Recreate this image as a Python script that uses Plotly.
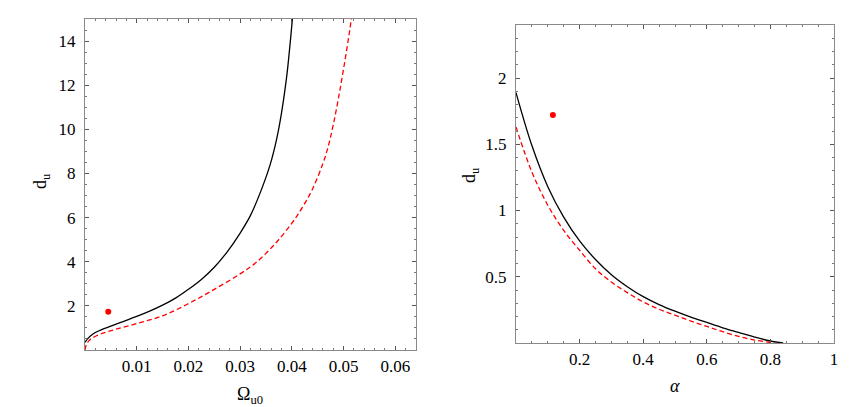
import plotly.graph_objects as go

# left panel: d_u vs Omega_u0
omega_solid = [0, 0.0007, 0.0016, 0.003, 0.005, 0.0075, 0.01, 0.0125, 0.015, 0.0175, 0.02, 0.0225,
               0.025, 0.0275, 0.03, 0.032, 0.034, 0.0358, 0.037, 0.038, 0.039, 0.0395, 0.0401, 0.0403]
du_solid = [0.35, 0.56, 0.74, 0.9, 1.08, 1.3, 1.52, 1.76, 2.03, 2.35, 2.75, 3.2,
            3.75, 4.45, 5.3, 6.1, 7.2, 8.4, 9.5, 10.75, 12.4, 13.5, 15, 15.6]
omega_dash = [0, 0.0003, 0.001, 0.003, 0.006, 0.01, 0.015, 0.02, 0.025, 0.03, 0.033, 0.0367,
              0.04, 0.042, 0.044, 0.046, 0.047, 0.048, 0.049, 0.05, 0.051, 0.0515, 0.0518]
du_dash = [0, 0.26, 0.48, 0.72, 0.94, 1.2, 1.55, 2.1, 2.75, 3.45, 3.95, 4.8,
           5.75, 6.45, 7.3, 8.45, 9.2, 10.2, 11.4, 12.75, 14.2, 15, 15.5]
omega_pt = [0.0045]
du_pt_left = [1.73]

# right panel: d_u vs alpha
alpha_solid = [0, 0.05, 0.1, 0.15, 0.2, 0.25, 0.3, 0.35, 0.4, 0.45, 0.5, 0.55,
               0.6, 0.65, 0.7, 0.75, 0.8, 0.84]
du_alpha_solid = [1.89, 1.49, 1.18, 0.95, 0.77, 0.63, 0.515, 0.425, 0.35, 0.29, 0.24, 0.195,
                  0.155, 0.115, 0.08, 0.045, 0.015, 0]
alpha_dash = [0, 0.05, 0.1, 0.15, 0.2, 0.25, 0.3, 0.35, 0.4, 0.45, 0.5, 0.55,
              0.6, 0.65, 0.7, 0.75, 0.8, 0.813]
du_alpha_dash = [1.63, 1.29, 1.04, 0.85, 0.7, 0.56, 0.46, 0.38, 0.31, 0.255, 0.21, 0.165,
                 0.125, 0.085, 0.05, 0.022, 0.004, 0]
alpha_pt = [0.116]
du_pt_right = [1.72]

left_xticks = [0.01, 0.02, 0.03, 0.04, 0.05, 0.06]
left_xlabels = ['0.01', '0.02', '0.03', '0.04', '0.05', '0.06']
left_yticks = [2, 4, 6, 8, 10, 12, 14]
right_xticks = [0.2, 0.4, 0.6, 0.8, 1]
right_xlabels = ['0.2', '0.4', '0.6', '0.8', '1']
right_yticks = [0.5, 1, 1.5, 2]
right_ylabels = ['0.5', '1', '1.5', '2']

# axis titles (HTML entities: Omega, alpha)
left_xtitle = '&#937;<sub>u0</sub>'
right_xtitle = '<i>&#945;</i>'
ytitle = 'd<sub>u</sub>'

FONT = 'Liberation Serif'
W, H = 855, 407
M = 10  # margin on every side, px

def fx(px):
    return (px - M) / (W - 2 * M)

def fy(py):
    return (H - py - M) / (H - 2 * M)

solid = dict(color='black', width=1.3, shape='spline', smoothing=1)
dashed = dict(color='red', width=1.3, dash='5px,3px', shape='spline', smoothing=1)
dot = dict(color='red', size=6)

fig = go.Figure()
fig.add_trace(go.Scatter(x=omega_solid, y=du_solid, mode='lines', line=solid, xaxis='x', yaxis='y', showlegend=False))
fig.add_trace(go.Scatter(x=omega_dash, y=du_dash, mode='lines', line=dashed, xaxis='x', yaxis='y', showlegend=False))
fig.add_trace(go.Scatter(x=omega_pt, y=du_pt_left, mode='markers', marker=dot, xaxis='x', yaxis='y', showlegend=False))
fig.add_trace(go.Scatter(x=alpha_solid, y=du_alpha_solid, mode='lines', line=solid, xaxis='x2', yaxis='y2', showlegend=False))
fig.add_trace(go.Scatter(x=alpha_dash, y=du_alpha_dash, mode='lines', line=dashed, xaxis='x2', yaxis='y2', showlegend=False))
fig.add_trace(go.Scatter(x=alpha_pt, y=du_pt_right, mode='markers', marker=dot, xaxis='x2', yaxis='y2', showlegend=False))

tick_font = dict(family=FONT, size=17, color='#000000')

def ax(**kw):
    d = dict(showline=True, mirror='allticks', linecolor='#8a8a8a', linewidth=1.2,
             ticks='inside', ticklen=4, tickcolor='#555555', showgrid=False, zeroline=False,
             tickfont=tick_font)
    d.update(kw)
    return d

fig.update_layout(
    template='none',
    width=W, height=H, margin=dict(l=M, r=M, t=M, b=M),
    font=dict(family=FONT, size=17, color='#000000'),
    xaxis=ax(range=[0, 0.064], tickvals=left_xticks, ticktext=left_xlabels,
             domain=[fx(77), fx(408)], anchor='y',
             minor=dict(dtick=0.002, tick0=0, ticks='inside', ticklen=2, tickcolor='#777777')),
    yaxis=ax(range=[0, 15], tickvals=left_yticks, domain=[fy(342), fy(11)], anchor='x',
             ticklabelstandoff=5,
             minor=dict(dtick=0.5, tick0=0, ticks='inside', ticklen=2, tickcolor='#777777')),
    xaxis2=ax(range=[0, 1], tickvals=right_xticks, ticktext=right_xlabels,
              domain=[fx(508), fx(826)], anchor='y2',
              minor=dict(dtick=0.05, tick0=0, ticks='inside', ticklen=2, tickcolor='#777777')),
    yaxis2=ax(range=[0, 2.4], tickvals=right_yticks, ticktext=right_ylabels,
              domain=[fy(335), fy(17)], anchor='x2', ticklabelstandoff=5,
              minor=dict(dtick=0.1, tick0=0, ticks='inside', ticklen=2, tickcolor='#777777')),
)

title_font = dict(family=FONT, size=18, color='#000000')
for text, px, py, angle in [(left_xtitle, 242, 387, 0), (right_xtitle, 667, 378, 0),
                            (ytitle, 33, 173, -90), (ytitle, 462, 167, -90)]:
    fig.add_annotation(text=text, x=fx(px), y=fy(py), xref='paper', yref='paper',
                       xanchor='center', yanchor='middle', showarrow=False,
                       textangle=angle, font=title_font)

fig.write_html("out.html")
